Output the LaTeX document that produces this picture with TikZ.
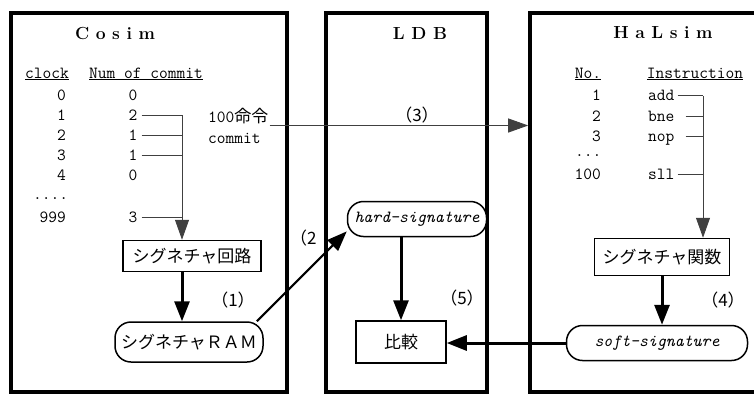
\documentclass[tikz,border=0pt]{standalone}
\usepackage{fontspec}
\newfontfamily\jpfont{Noto Sans CJK JP}
\usetikzlibrary{arrows.meta,positioning}

\begin{document}
\begin{tikzpicture}[
        x=1pt, y=-1pt,
        every node/.style={font=\ttfamily\fontsize{17}{20}\selectfont, inner sep=1pt},
        cell/.style={text height=12pt, text depth=2pt},
        panel/.style={rectangle, draw=black, line width=3.6pt, minimum height=379},
        title/.style={font=\rmfamily\bfseries\fontsize{17.5}{20}\selectfont},
        jp/.style={font=\jpfont\fontsize{17}{20}\selectfont},
        block/.style={rectangle, draw=black, line width=1.5pt, fill=white, jp, inner sep=0pt},
        memory/.style={rectangle, rounded corners=16pt, draw=black, line width=1.5pt, fill=white, inner sep=0pt},
        thinline/.style={draw=black!75, line width=0.9pt},
        thinarrow/.style={thinline, -{Triangle[length=20pt,width=14pt]}},
        arrow/.style={draw=black, line width=3pt, -{Triangle[length=20pt,width=15pt]}},
        ]
        \useasboundingbox (0,0) rectangle (754,394);

        % Three panels
        \node[panel, minimum width=276] (cosim) at (149,202.5) {};
        \node[panel, minimum width=161] (ldb) at (406.5,202.5) {};
        \node[panel, minimum width=230] (halsim) at (645,202.5) {};

        \node[title] (cosimtitle) at (115,33) {C o s i m};
        \node[title] (ldbtitle) at (420,33) {L D B};
        \node[title] (halsimtitle) at (663,33) {H a L s i m};

        % Left Side: Cosim table
        \node[cell] (clockhd) at (47,73) {\underline{clock}};
        \node[cell] (numhd) at (146,73) {\underline{Num of commit}};
        \node[cell, anchor=east] (clk0) at (67,95) {0};
        \node[cell, anchor=east] (clk1) at (67,115) {1};
        \node[cell, anchor=east] (clk2) at (67,135) {2};
        \node[cell, anchor=east] (clk3) at (67,155) {3};
        \node[cell, anchor=east] (clk4) at (67,175) {4};
        \node[anchor=west] (clkdots) at (32,199) {....};
        \node[cell, anchor=east] (clk999) at (67,217) {999};
        \node[cell] (cmt0) at (133,95) {0};
        \node[cell] (cmt1) at (133,115) {2};
        \node[cell] (cmt2) at (133,135) {1};
        \node[cell] (cmt3) at (133,155) {1};
        \node[cell] (cmt4) at (133,175) {0};
        \node[cell] (cmt999) at (133,217) {3};
        \coordinate (cbus) at (182,115);
        \node[anchor=west, align=left, font=\ttfamily\fontsize{17}{21}\selectfont] (cmtnote) at (207,125.5) {100{\jpfont 命令}\\commit};

        \node[block, minimum width=138, minimum height=31] (sigcirc) at (192,256) {シグネチャ回路};
        \node[memory, jp, minimum width=148, minimum height=40] (sigram) at (189,342) {シグネチャＲＡＭ};
        \node[jp] (lbl1) at (233,300) {（1）};
        \node[jp, anchor=west] (lbl2) at (289,238) {（2};

        % Middle: LDB
        \node[jp] (lbl3) at (417,115) {（3）};
        \node[memory, font=\ttfamily\itshape\fontsize{17}{20}\selectfont, minimum width=139, minimum height=35] (hardsig) at (417,219) {hard-signature};
        \node[block, minimum width=90, minimum height=42] (hikaku) at (401,342) {比較};
        \node[jp] (lbl5) at (462,298) {（5）};

        % Right Side: HaLsim table
        \node[cell] (nohd) at (588,73) {\underline{No.}};
        \node[cell] (insthd) at (695,73) {\underline{Instruction}};
        \node[cell, anchor=east] (no1) at (602,95) {1};
        \node[cell, anchor=east] (no2) at (602,116) {2};
        \node[cell, anchor=east] (no3) at (602,136) {3};
        \node[anchor=west] (nodots) at (574,156) {...};
        \node[cell, anchor=east] (no100) at (602,174) {100};
        \node[cell, anchor=west] (add) at (647,95) {add};
        \node[cell, anchor=west] (bne) at (647,116) {bne};
        \node[cell, anchor=west] (nop) at (647,136) {nop};
        \node[cell, anchor=west] (sll) at (647,174) {sll};
        \coordinate (hbus) at (703,96);

        \node[block, minimum width=135, minimum height=37] (sigfunc) at (662,257) {シグネチャ関数};
        \node[memory, font=\ttfamily\itshape\fontsize{17}{20}\selectfont, minimum width=181, minimum height=35] (softsig) at (657,343) {soft-signature};
        \node[jp] (lbl4) at (723,300) {（4）};

        % Connections
        \draw[thinline, shorten <=3pt] (cmt1.east) -- (cmt1.east -| cbus);
        \draw[thinline, shorten <=3pt] (cmt2.east) -- (cmt2.east -| cbus);
        \draw[thinline, shorten <=3pt] (cmt3.east) -- (cmt3.east -| cbus);
        \draw[thinline, shorten <=3pt] (cmt999.east) -- (cmt999.east -| cbus);
        \draw[thinarrow] (cbus) -- (cbus |- sigcirc.north);
        \draw[arrow] (sigcirc.south -| cbus) -- (cbus |- sigram.north);
        \draw[arrow, line width=2pt] (sigram.17) -- (hardsig.190);
        \draw[thinarrow] (cmtnote.east) -- (cmtnote.east -| halsim.west);
        \draw[thinline, shorten <=2pt] (add.east) -- (add.east -| hbus);
        \draw[thinline, shorten <=10pt] (bne.east) -- (bne.east -| hbus);
        \draw[thinline, shorten <=10pt] (nop.east) -- (nop.east -| hbus);
        \draw[thinline, shorten <=2pt] (sll.east) -- (sll.east -| hbus);
        \draw[thinarrow] (hbus) -- (hbus |- sigfunc.north);
        \draw[arrow] (sigfunc) -- (sigfunc |- softsig.north);
        \draw[arrow] (hardsig.south -| hikaku) -- (hikaku);
        \draw[arrow] (softsig.west) -- (softsig.west -| hikaku.east);

    \end{tikzpicture}
\end{document}
